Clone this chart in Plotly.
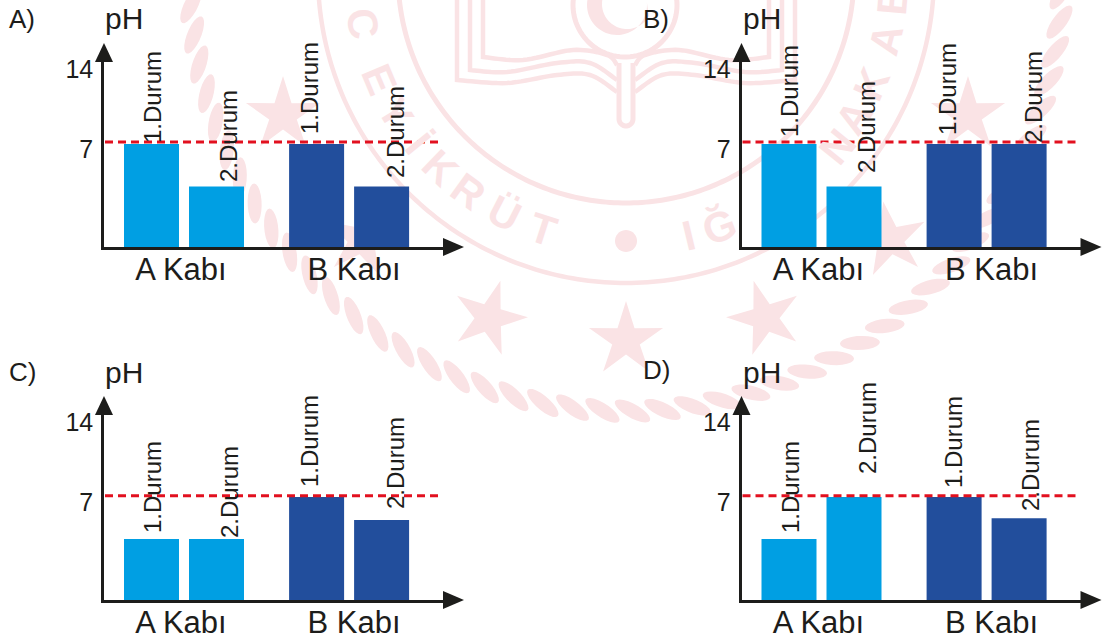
import numpy as np
import plotly.graph_objects as go

# ---------- data ----------
panel_names = ["A)", "B)", "C)", "D)"]
bar_names = ["1.Durum", "2.Durum", "1.Durum", "2.Durum"]
group_labels = ["A Kabı", "B Kabı"]
ph_a = [7, 4.12, 7, 4.12]
ph_b = [7, 4.12, 7, 7]
ph_c = [4.15, 4.15, 7, 5.44]
ph_d = [4.15, 7, 7, 5.55]
neutral_a = 7.14
neutral_b = 7.14
neutral_c = 7.09
neutral_d = 7.09
y_tick_text = ["7", "14"]

# ---------- layout (pixels) ----------
W, H = 1102, 640
INK = "#1d1d1b"
LIGHT, DARK = "#009fe3", "#224e9c"
RED = "#e2101f"
PINK = "#fae3e5"
FONT = "Liberation Sans"
UNIT = 103 / 7            # px per pH
STEP = 65                 # px between neighbouring bars
BAR_POS = [0, 1, 2.54, 3.54]
FIRST_CENTER = 151.5

panels = [
    dict(ph=ph_a, level=neutral_a, ox=0, oy=0, label_y=19,
         lx=[152, 229, 309, 395], lb=[143, 182, 134, 178]),
    dict(ph=ph_b, level=neutral_b, ox=637.5, oy=0, label_y=19,
         lx=[790, 866, 947, 1033], lb=[137, 173, 135, 143]),
    dict(ph=ph_c, level=neutral_c, ox=0, oy=353, label_y=372,
         lx=[152, 229, 309, 395], lb=[533, 538, 487, 509]),
    dict(ph=ph_d, level=neutral_d, ox=637.5, oy=353, label_y=370,
         lx=[790, 867, 953, 1030], lb=[533, 474, 488, 511]),
]


def fx(x):
    return x / W


def fy(y):
    return 1 - y / H


def poly(points, close=True):
    s = "M" + " L".join(f"{fx(x):.5f},{fy(y):.5f}" for x, y in points)
    return s + (" Z" if close else "")


def curve(pts):
    """Smooth polyline through pts using Catmull-Rom sampling."""
    pts = [np.array(p, float) for p in pts]
    pts = [pts[0]] + pts + [pts[-1]]
    out = []
    for i in range(1, len(pts) - 2):
        p0, p1, p2, p3 = pts[i - 1], pts[i], pts[i + 1], pts[i + 2]
        for t in np.linspace(0, 1, 12):
            out.append(0.5 * ((2 * p1) + (p2 - p0) * t +
                              (2 * p0 - 5 * p1 + 4 * p2 - p3) * t ** 2 +
                              (3 * p1 - p0 - 3 * p2 + p3) * t ** 3))
    return out


shapes = []
annotations = []


def pink_line(points, width):
    shapes.append(dict(type="path", xref="paper", yref="paper", layer="below",
                       path=poly(points, close=False),
                       line=dict(color=PINK, width=width), fillcolor="rgba(0,0,0,0)"))


def pink_fill(path):
    shapes.append(dict(type="path", xref="paper", yref="paper", layer="below",
                       path=path, line=dict(width=0), fillcolor=PINK))


# ---------- watermark seal ----------
CX, CY = 626, -25
ang = np.radians(np.linspace(-90, 90, 181))
for R, w in [(308, 4.5), (228, 5)]:
    pink_line([(CX + R * np.sin(a), CY + R * np.cos(a)) for a in ang], w)

# rope
rope = []
for th in np.arange(-90, 90.1, 3.95):
    t = np.radians(th)
    mx, my = CX + 436 * np.sin(t), CY + 436 * np.cos(t)
    rot = np.radians(-th + 30)
    pts = []
    for u in np.linspace(0, 2 * np.pi, 22, endpoint=False):
        a, b = 20 * np.cos(u), 7 * np.sin(u)
        pts.append((mx + a * np.cos(rot) - b * np.sin(rot),
                    my + a * np.sin(rot) + b * np.cos(rot)))
    rope.append(poly(pts))
pink_fill(" ".join(rope))

# stars
stars = []
for sx, sy, rot in [(283, 115, 0), (362, 240, 10), (489, 318, 17), (626, 340, 0),
                    (765, 318, -17), (890, 240, -10), (968, 115, 0)]:
    pts = []
    for k in range(10):
        r = 39 if k % 2 == 0 else 14.5
        a = np.radians(rot + 36 * k)
        pts.append((sx + r * np.sin(a), sy - r * np.cos(a)))
    stars.append(poly(pts))
pink_fill(" ".join(stars))

# centre dot
pink_fill(poly([(626 + 11 * np.cos(a), 241 + 11 * np.sin(a))
                for a in np.linspace(0, 2 * np.pi, 36, endpoint=False)]))

# medallion, crescent
pink_line([(625 + 52 * np.cos(a), 5 + 52 * np.sin(a)) for a in np.linspace(-0.4, np.pi + 0.4, 60)], 5)
outer = [(617 + 30 * np.cos(a), 5 + 30 * np.sin(a)) for a in np.linspace(-0.2, np.pi + 0.3, 40)]
inner = [(627 + 25 * np.cos(a), 4 + 25 * np.sin(a)) for a in np.linspace(np.pi + 0.3, 0.5, 40)]
pink_fill(poly(outer + inner))

# book
left_pages = [
    [(457, -5), (457, 80), (507, 83), (557, 75), (590, 75), (617, 92)],
    [(470, -5), (470, 70), (507, 72), (557, 63), (590, 63), (617, 80)],
    [(483, -5), (483, 57), (523, 60), (573, 50), (607, 55), (617, 65)],
]
for page in left_pages:
    pts = [page[0]] + curve(page[1:])
    pink_line(pts, 4.5)
    pink_line([(2 * CX - x, y) for x, y in pts], 4.5)

# stem
stem = [(619, 63), (619, 118)] + \
       [(626 + 7 * np.cos(a), 119 + 7 * np.sin(a)) for a in np.linspace(np.pi, 0, 14)] + \
       [(633, 118), (633, 63)]
pink_line(stem, 5)

# seal letters (those that sit behind the bars are hidden in the picture)
LETTER = dict(family=FONT, size=42, color=PINK)
for ch, th in [("T", 18), ("Ü", 27), ("R", 36), ("K", 44), ("İ", 51), ("Y", 59), ("E", 67), ("C", 79.5)]:
    t = np.radians(th)
    annotations.append(dict(text=f"<b>{ch}</b>", xref="paper", yref="paper",
                            x=fx(CX - 268 * np.sin(t)), y=fy(CY + 268 * np.cos(t)),
                            showarrow=False, textangle=th, xanchor="center", yanchor="middle",
                            font=LETTER))
for ch, th, rad in [("I", 13.5, 268), ("Ğ", 20.5, 268), ("N", 51, 272), ("A", 58, 268),
                    ("K", 66, 268), ("A", 76, 268)]:
    t = np.radians(th)
    annotations.append(dict(text=f"<b>{ch}</b>", xref="paper", yref="paper",
                            x=fx(CX + rad * np.sin(t)), y=fy(CY + rad * np.cos(t)),
                            showarrow=False, textangle=-th, xanchor="center", yanchor="middle",
                            font=LETTER))

# ---------- chart panels ----------
fig = go.Figure()
layout_axes = {}
for i, p in enumerate(panels):
    ox, oy = p["ox"], p["oy"]
    n = i + 1
    xname, yname = ("x", "y") if i == 0 else (f"x{n}", f"y{n}")
    base = 247 + oy
    left, right = 104 + ox, 444 + ox
    top = 62 + oy

    def to_x(px_):
        return (px_ - (FIRST_CENTER + ox)) / STEP

    fig.add_trace(go.Bar(x=BAR_POS, y=p["ph"], width=55 / STEP,
                         marker=dict(color=[LIGHT, LIGHT, DARK, DARK], line=dict(width=0)),
                         xaxis=xname, yaxis=yname, showlegend=False, hoverinfo="skip"))
    fig.add_trace(go.Scatter(x=[to_x(105 + ox), to_x(438 + ox)], y=[p["level"], p["level"]],
                             mode="lines", line=dict(color=RED, width=3, dash="8px,5px"),
                             xaxis=xname, yaxis=yname, showlegend=False, hoverinfo="skip"))

    layout_axes["xaxis" if i == 0 else f"xaxis{n}"] = dict(
        domain=[fx(left), fx(right)], range=[to_x(left), to_x(right)], anchor=yname,
        tickmode="array", tickvals=[to_x(181 + ox), to_x(354 + ox)], ticktext=group_labels,
        ticks="", showgrid=False, zeroline=False, showline=True, automargin=False,
        linecolor=INK, linewidth=2.5, ticklabelstandoff=-7,
        tickfont=dict(family=FONT, size=31, color=INK))
    layout_axes["yaxis" if i == 0 else f"yaxis{n}"] = dict(
        domain=[fy(base), fy(top)], range=[0, (base - top) / UNIT], anchor=xname,
        tickmode="array", tickvals=[(247 - 149) / UNIT, (247 - 69) / UNIT], ticktext=y_tick_text,
        ticks="", showgrid=False, zeroline=False, showline=True, automargin=False,
        linecolor=INK, linewidth=2.5, ticklabelstandoff=3,
        tickfont=dict(family=FONT, size=25, color=INK))

    if i == 1:
        # seal letter cut by the top edge: anchored on this axis so it pushes no margin
        annotations.append(dict(text="<b>B</b>", xref="x2", yref="y2",
                                x=to_x(892), y=(base - top) / UNIT, yshift=62,
                                showarrow=False, textangle=-85, xanchor="center", yanchor="middle",
                                font=LETTER))

    # arrow heads
    shapes.append(dict(type="path", xref="paper", yref="paper", layer="above", line=dict(width=0),
                       fillcolor=INK,
                       path=poly([(464 + ox, base), (443 + ox, base - 9), (443 + ox, base + 9)])))
    shapes.append(dict(type="path", xref="paper", yref="paper", layer="above", line=dict(width=0),
                       fillcolor=INK,
                       path=poly([(104 + ox, 43 + oy), (95 + ox, 62 + oy), (113 + ox, 62 + oy)])))

    # text
    annotations.append(dict(text="pH", xref="paper", yref="paper", x=fx(124 + ox), y=fy(19 + oy),
                            showarrow=False, xanchor="center", yanchor="middle",
                            font=dict(family=FONT, size=30, color=INK)))
    annotations.append(dict(text=panel_names[i], xref="paper", yref="paper",
                            x=fx(7 if ox == 0 else 641), y=fy(p["label_y"]),
                            showarrow=False, xanchor="left", yanchor="middle",
                            font=dict(family=FONT, size=26, color=INK)))
    for name, lx, lb in zip(bar_names, p["lx"], p["lb"]):
        annotations.append(dict(text=name, xref="paper", yref="paper", x=fx(lx), y=fy(lb + 1),
                                showarrow=False, textangle=-90, xanchor="center", yanchor="bottom",
                                borderpad=0, font=dict(family=FONT, size=24, color=INK)))

fig.update_layout(width=W, height=H, margin=dict(l=0, r=0, t=0, b=0),
                  paper_bgcolor="white", plot_bgcolor="rgba(0,0,0,0)",
                  shapes=shapes, annotations=annotations, barmode="overlay",
                  showlegend=False, **layout_axes)
fig.write_html("out.html", config={"displayModeBar": False},
               post_script="document.body.style.margin='0';")
